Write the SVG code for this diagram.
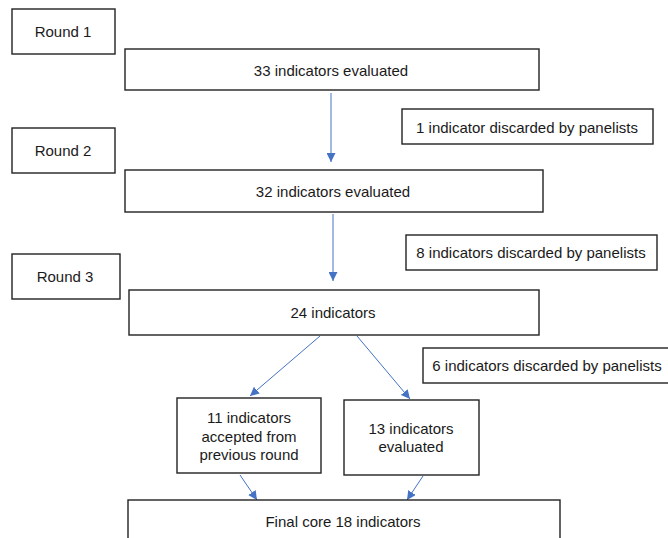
<svg xmlns="http://www.w3.org/2000/svg" width="668" height="538" viewBox="0 0 668 538">
<style>
.box{fill:#fff;stroke:#222;stroke-width:1.4}
.t{font-family:"Liberation Sans",Arial,sans-serif;font-size:15px;fill:#1a1a1a;text-anchor:middle;dominant-baseline:central}
.c{stroke:#4472C4;stroke-width:1;fill:none}
</style>
<defs>
<marker id="ah" viewBox="0 0 10 10" refX="10" refY="5" markerWidth="9" markerHeight="9" markerUnits="userSpaceOnUse" orient="auto">
<path d="M0,0 L10,5 L0,10 z" fill="#4472C4"/>
</marker>
</defs>
<rect width="668" height="538" fill="#fff"/>
<g id="connectors">
<line class="c" x1="331" y1="93" x2="331" y2="162" marker-end="url(#ah)"/>
<line class="c" x1="333" y1="214" x2="333" y2="281" marker-end="url(#ah)"/>
<line class="c" x1="320" y1="336" x2="250" y2="396" marker-end="url(#ah)"/>
<line class="c" x1="357" y1="336" x2="410" y2="399" marker-end="url(#ah)"/>
<line class="c" x1="240" y1="475" x2="257" y2="500" marker-end="url(#ah)"/>
<line class="c" x1="423" y1="476" x2="407" y2="500" marker-end="url(#ah)"/>
</g>
<g id="round1"><rect class="box" x="12" y="9" width="103" height="45"/><text class="t" x="63" y="31">Round 1</text></g>
<g id="n33"><rect class="box" x="125" y="49" width="414" height="41"/><text class="t" x="331" y="70">33 indicators evaluated</text></g>
<g id="d1"><rect class="box" x="402" y="109" width="251" height="35"/><text class="t" x="527" y="127">1 indicator discarded by panelists</text></g>
<g id="round2"><rect class="box" x="12" y="128" width="103" height="45"/><text class="t" x="63" y="150">Round 2</text></g>
<g id="n32"><rect class="box" x="125" y="170" width="418" height="42"/><text class="t" x="333" y="191">32 indicators evaluated</text></g>
<g id="d8"><rect class="box" x="406" y="235" width="251" height="35"/><text class="t" x="531" y="252">8 indicators discarded by panelists</text></g>
<g id="round3"><rect class="box" x="12" y="254" width="108" height="45"/><text class="t" x="65" y="276">Round 3</text></g>
<g id="n24"><rect class="box" x="129" y="290" width="410" height="45"/><text class="t" x="333" y="312">24 indicators</text></g>
<g id="d6"><rect class="box" x="423" y="348" width="250" height="35"/><text class="t" x="547" y="365">6 indicators discarded by panelists</text></g>
<g id="n11"><rect class="box" x="177" y="398" width="144" height="75"/><text class="t" x="249" y="417">11 indicators</text><text class="t" x="249" y="436">accepted from</text><text class="t" x="249" y="454">previous round</text></g>
<g id="n13"><rect class="box" x="344" y="400" width="135" height="75"/><text class="t" x="411" y="428">13 indicators</text><text class="t" x="411" y="446">evaluated</text></g>
<g id="final"><rect class="box" x="128" y="500" width="432" height="50"/><text class="t" x="343" y="521">Final core 18 indicators</text></g>
</svg>
